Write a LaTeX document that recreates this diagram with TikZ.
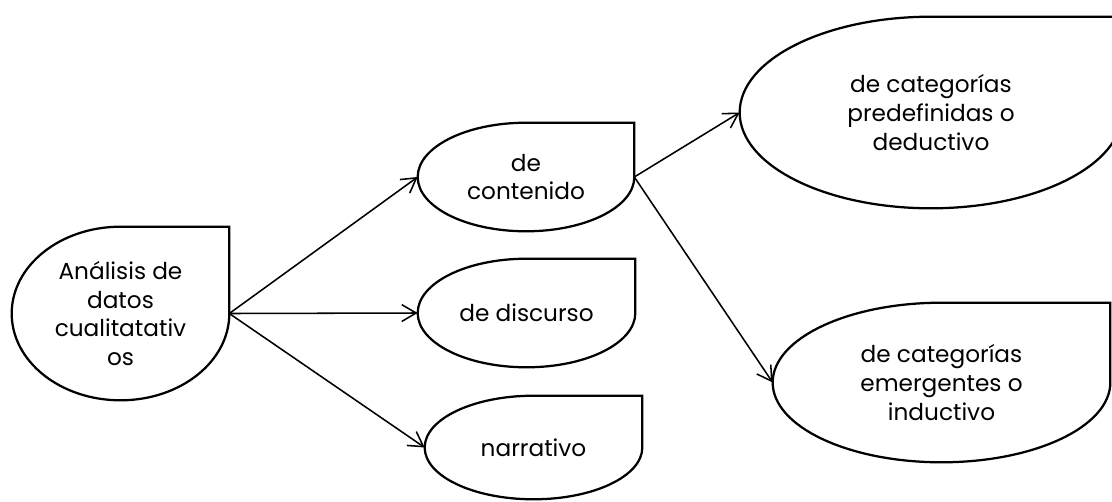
\documentclass[tikz,border=0pt]{standalone}
\usepackage{fontspec}
\setmainfont{Poppins}
\usepackage{tikz}
\usetikzlibrary{arrows.meta, calc}

\begin{document}
\begin{tikzpicture}[x=0.025cm, y=0.025cm,
    drop/.style={rectangle, inner sep=0pt, align=center, font=\fontsize{16.5}{20.5}\selectfont},
    outline/.style={line width=1.6pt},
    arrow/.style={-{Straight Barb[length=3.6mm, width=4.2mm]}, line width=1.1pt}]
    \useasboundingbox (0,0) rectangle (1112,-501);
    \node[drop, minimum width=5.425cm, minimum height=4.325cm] (ana) at (120.5,-313.5) {Análisis de\\datos\\cualitatativ\\os};
    \node[drop, minimum width=5.4cm, minimum height=2.7cm] (cont) at (526,-177) {de\\contenido};
    \node[drop, minimum width=5.425cm, minimum height=2.7cm] (disc) at (526.5,-313) {de discurso};
    \node[drop, minimum width=5.425cm, minimum height=2.575cm] (narr) at (533.5,-447.5) {narrativo};
    \node[drop, minimum width=9.55cm, minimum height=4.775cm] (pred) at (931,-112.5) {de categorías\\predefinidas o\\deductivo};
    \node[drop, minimum width=8.425cm, minimum height=3.975cm] (emer) at (941.5,-382.5) {de categorías\\emergentes o\\inductivo};
    % rounded outline, square top right corner
    \foreach \nd in {ana,cont,disc,narr,pred,emer}
        \draw[outline] let \p1=(\nd.west), \p2=(\nd.north) in
            (\nd.west) arc[start angle=180, end angle=90, x radius=\x2-\x1, y radius=\y2-\y1]
            -- (\nd.north east) -- (\nd.east)
            arc[start angle=0, end angle=-90, x radius=\x2-\x1, y radius=\y2-\y1]
            arc[start angle=-90, end angle=-180, x radius=\x2-\x1, y radius=\y2-\y1] -- cycle;
    \draw[arrow] (ana.east) -- (cont.west);
    \draw[arrow] (ana.east) -- (disc.west);
    \draw[arrow] (ana.east) -- (narr.west);
    \draw[arrow] (cont.east) -- (pred.west);
    \draw[arrow] (cont.east) -- (emer.west);
\end{tikzpicture}
\end{document}
